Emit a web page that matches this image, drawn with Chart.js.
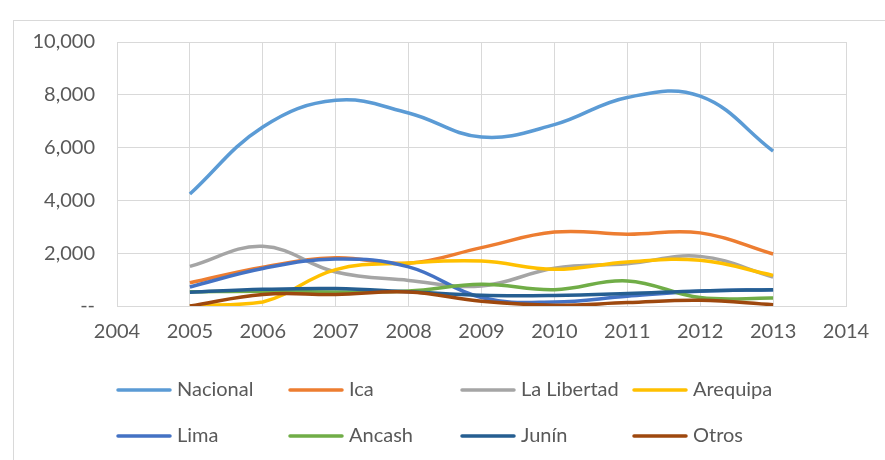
<!DOCTYPE html>
<html lang="es">
<head>
  <meta charset="UTF-8">
  <title>Series 2005-2013</title>
  <script src="https://cdn.jsdelivr.net/npm/chart.js"></script>
  <style>
    body { margin: 0; background: #fff; }
    #frame { position: absolute; left: 13px; top: 20px; width: 900px; height: 500px; border: 1px solid #d9d9d9; }
    #wrap { position: absolute; left: 0; top: 0; width: 885px; height: 460px; }
  </style>
</head>
<body>
  <div id="frame"></div>
  <div id="wrap"><canvas id="chart" width="885" height="460"></canvas></div>

  <script>
    const years = [2005, 2006, 2007, 2008, 2009, 2010, 2011, 2012, 2013];

    const seriesNames = ['Nacional', 'Ica', 'La Libertad', 'Arequipa', 'Lima', 'Ancash', 'Junín', 'Otros'];
    const seriesColors = ['#5B9BD5', '#ED7D31', '#A5A5A5', '#FFC000', '#4472C4', '#70AD47', '#255E91', '#9E480E'];

    const nacional   = [4240, 6780, 7790, 7310, 6400, 6870, 7900, 7950, 5870];
    const ica        = [880, 1470, 1830, 1620, 2210, 2800, 2720, 2770, 1970];
    const laLibertad = [1500, 2260, 1290, 970, 760, 1430, 1600, 1880, 1100];
    const arequipa   = [0, 150, 1380, 1630, 1700, 1390, 1670, 1730, 1160];
    const lima       = [720, 1420, 1780, 1480, 320, 150, 370, 560, 620];
    const ancash     = [540, 560, 530, 570, 820, 620, 950, 320, 300];
    const junin      = [520, 630, 660, 540, 405, 400, 470, 570, 620];
    const otros      = [0, 440, 440, 530, 180, 30, 130, 215, 50];

    const seriesValues = [nacional, ica, laLibertad, arequipa, lima, ancash, junin, otros];

    const font = { family: 'Lato, "Open Sans", sans-serif', size: 20 };
    const textColor = '#595959';
    const gridColor = '#d9d9d9';

    // legend in 4 columns x 2 rows, like the Excel one
    const legendCols = [118, 290, 462, 634];
    const legendRows = [390, 436];

    const excelLegend = {
      id: 'excelLegend',
      afterDraw(chart) {
        const ctx = chart.ctx;
        ctx.save();
        ctx.font = font.size + 'px ' + font.family;
        ctx.textBaseline = 'middle';
        chart.data.datasets.forEach((ds, i) => {
          const x = legendCols[i % 4];
          const y = legendRows[Math.floor(i / 4)];
          ctx.strokeStyle = ds.borderColor;
          ctx.lineWidth = 3.5;
          ctx.lineCap = 'round';
          ctx.beginPath();
          ctx.moveTo(x, y);
          ctx.lineTo(x + 52, y);
          ctx.stroke();
          ctx.fillStyle = textColor;
          ctx.fillText(ds.label, x + 59, y);
        });
        ctx.restore();
      }
    };

    const datasets = seriesNames.map((name, i) => ({
      label: name,
      data: years.map((yr, j) => ({ x: yr, y: seriesValues[i][j] })),
      borderColor: seriesColors[i],
      backgroundColor: seriesColors[i],
      borderWidth: 3.5,
      pointRadius: 0,
      tension: 0.4,
      fill: false,
      order: seriesNames.length - i
    }));

    new Chart(document.getElementById('chart'), {
      type: 'line',
      data: { datasets: datasets },
      options: {
        responsive: false,
        animation: false,
        devicePixelRatio: 1,
        layout: { padding: { left: 0, top: 42, right: 39, bottom: 0 } },
        plugins: {
          legend: { display: false },
          tooltip: { enabled: false }
        },
        scales: {
          x: {
            type: 'linear',
            min: 2004,
            max: 2014,
            ticks: {
              stepSize: 1,
              color: textColor,
              font: font,
              padding: 14,
              callback: v => String(v)
            },
            grid: { color: gridColor, lineWidth: 1, drawTicks: false },
            border: { color: gridColor },
            afterFit(scale) { scale.height = 154; }
          },
          y: {
            min: 0,
            max: 10000,
            ticks: {
              stepSize: 2000,
              color: textColor,
              font: font,
              padding: 22,
              callback: v => v === 0 ? '--' : v.toLocaleString('en-US')
            },
            grid: { color: gridColor, lineWidth: 1, drawTicks: false },
            border: { color: gridColor },
            afterFit(scale) { scale.width = 117; }
          }
        }
      },
      plugins: [excelLegend]
    });
  </script>
</body>
</html>
